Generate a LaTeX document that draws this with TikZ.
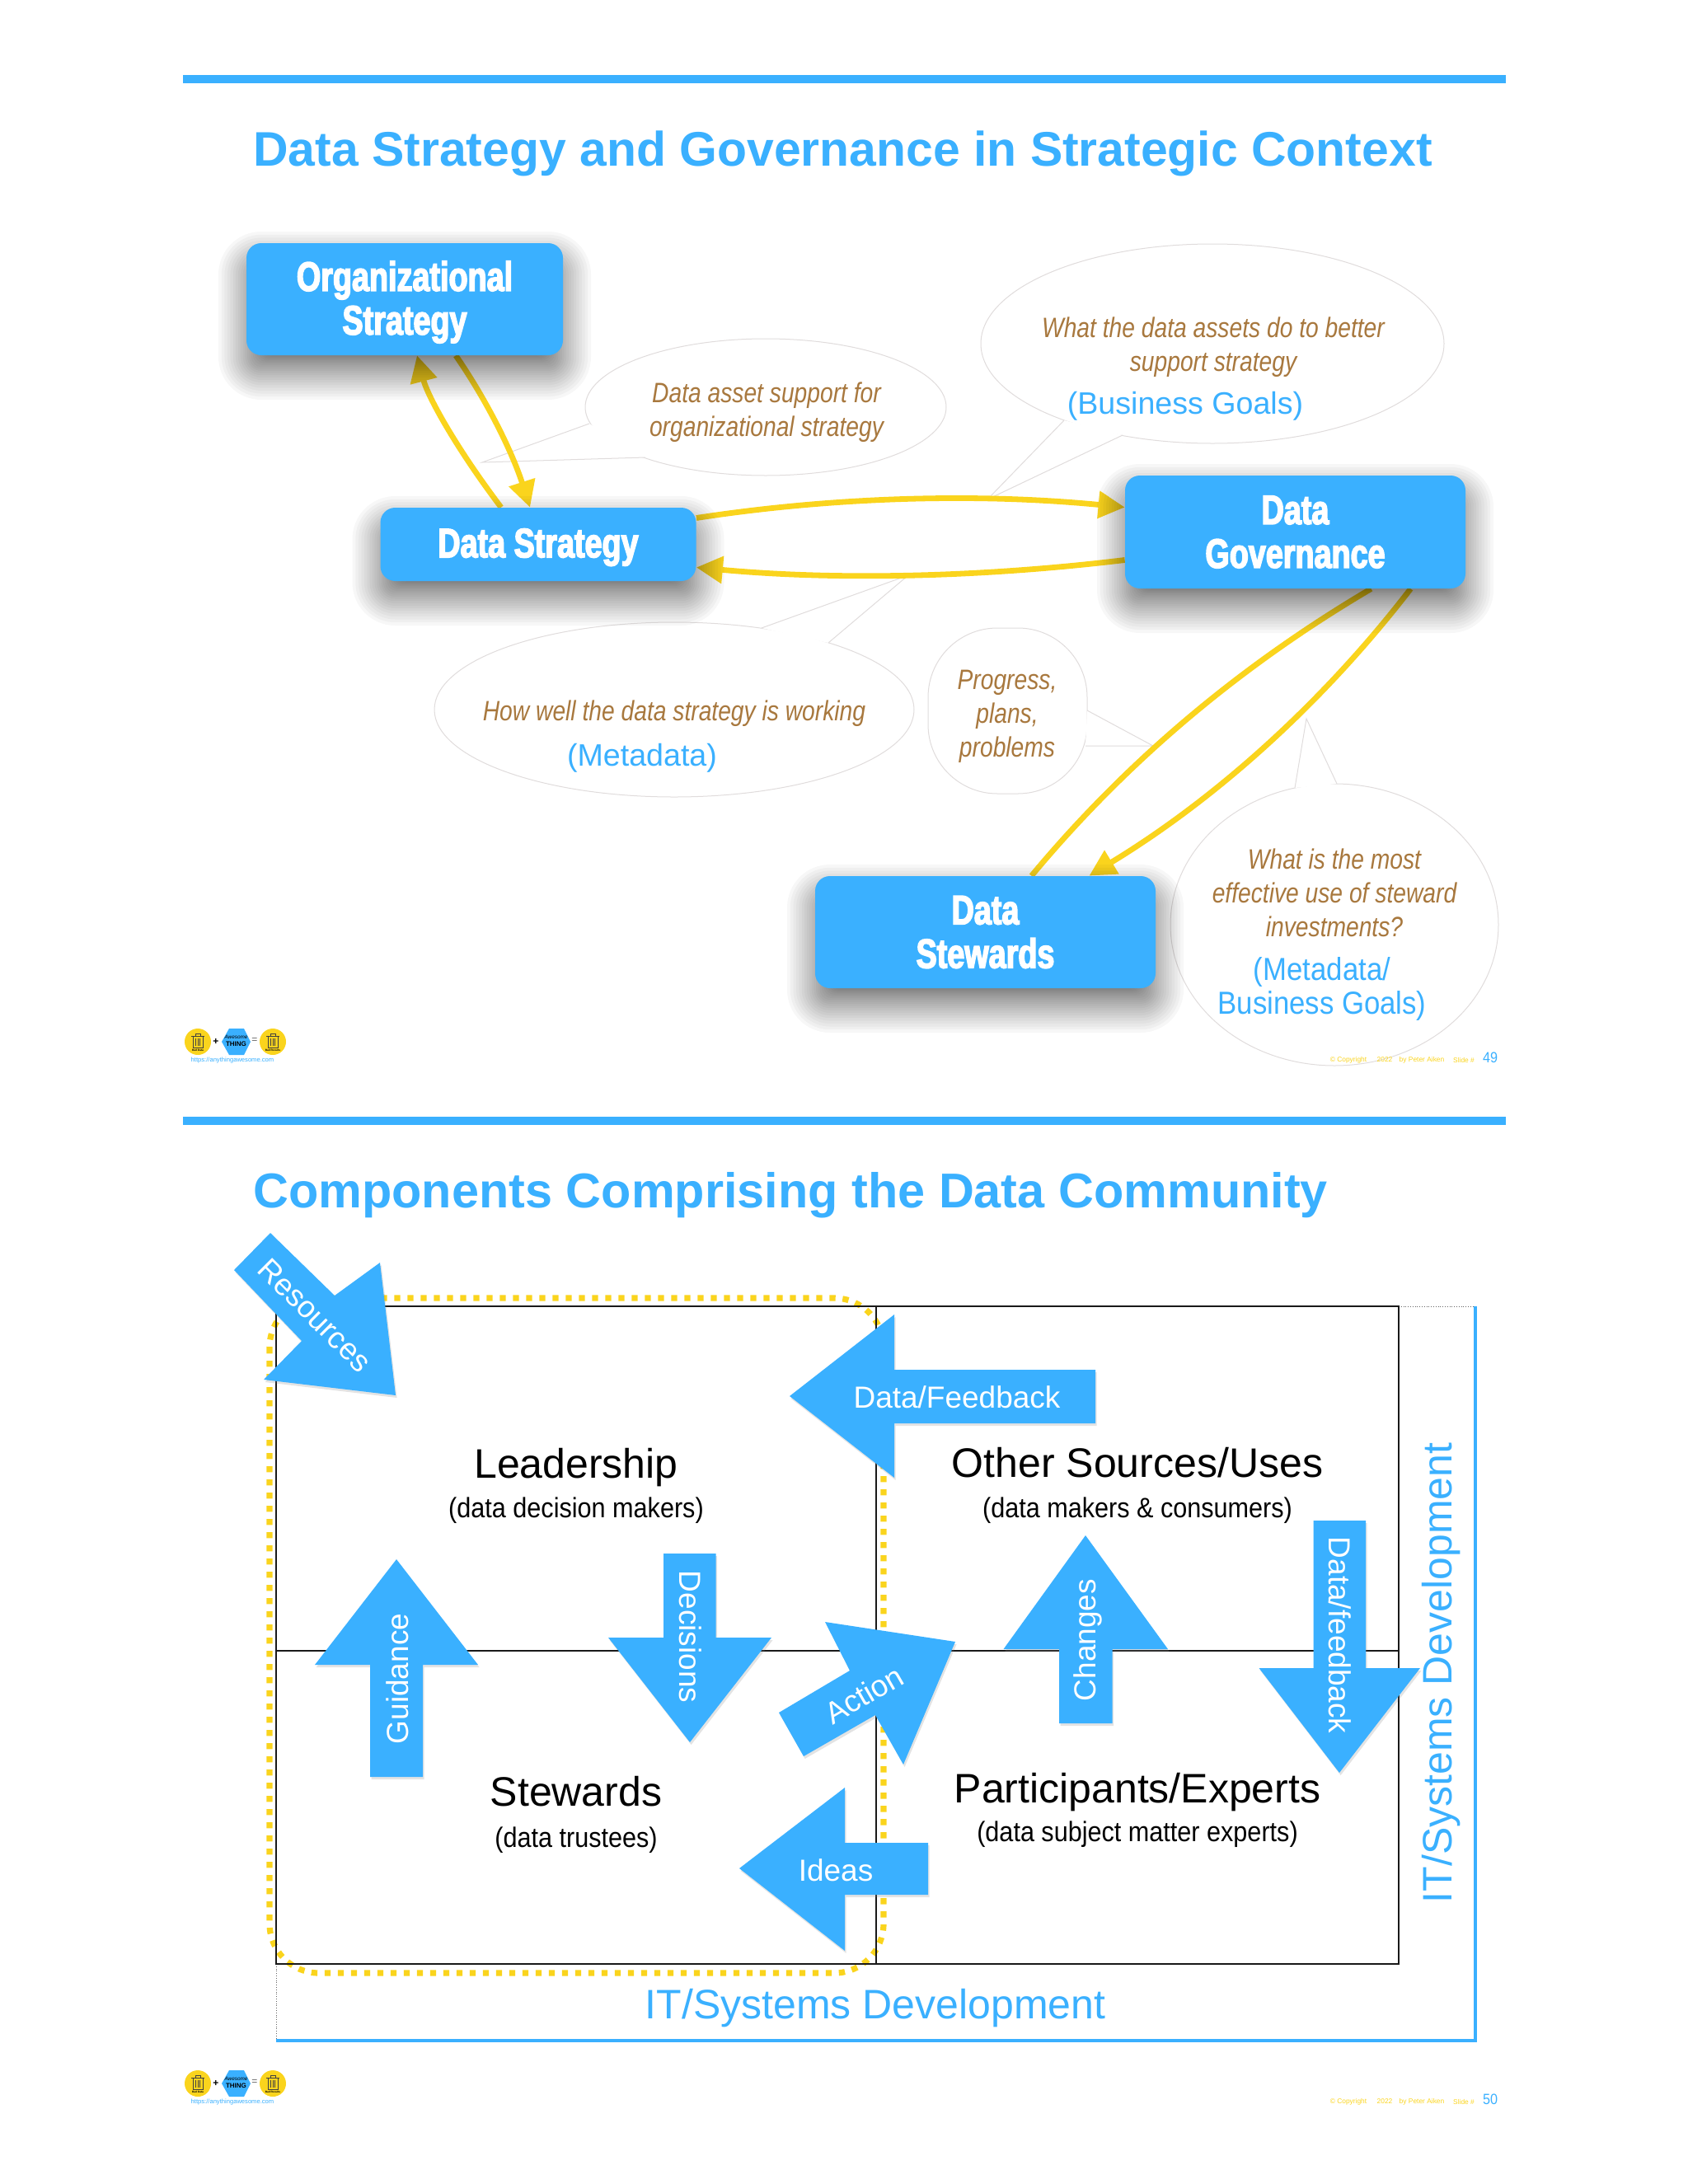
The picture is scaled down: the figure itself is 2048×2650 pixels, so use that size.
\documentclass[tikz,border=0pt]{standalone}
\usepackage{fontspec}
\setmainfont{Liberation Sans}
\newfontfamily\boxfont{Liberation Sans}[FakeStretch=0.755,FakeBold=3]
\newfontfamily\bubblefont{Liberation Sans}[FakeStretch=0.83]
\newfontfamily\narrowfont{Liberation Sans}[FakeStretch=0.9]
\usetikzlibrary{arrows.meta,shadows}
\definecolor{abblue}{RGB}{58,176,255}
\definecolor{abyellow}{RGB}{250,212,29}
\definecolor{abbrown}{RGB}{168,120,62}
\definecolor{abline}{RGB}{224,220,220}
\pgfdeclarelayer{back}
\pgfsetlayers{back,main}

% soft shadow under a box: centre x, centre y, width, height (in picture units)
\newcommand\softshadow[4]{%
  \foreach \i in {0,...,31} {
    \pgfmathsetmacro\g{60*(1-\i/31)*(1-\i/31)-26}
    \pgfmathsetmacro\r{max(6,9+\g/2)}
    \fill[black,opacity=.03,rounded corners=\r pt]
      (#1-#3/2-\g,#2-#4/2-\g+20) rectangle (#1+#3/2+\g,#2+#4/2+\g+20);
  }%
}
% text set a little lower in its box
\newcommand\lowered[1]{\raisebox{-1.8pt}[\height][\depth]{#1}}
% bin icon in a logo circle: centre x, centre y, label, node name
\newcommand\logobin[4]{%
  \fill[abyellow] (#1,#2) circle [radius=16];
  \draw[black!75,line width=.4pt] (#1-6,#2-7) rectangle (#1+6,#2+7)
    (#1-8,#2-7) -- (#1+8,#2-7) (#1-3,#2-7) -- (#1-3,#2-10) -- (#1+3,#2-10) -- (#1+3,#2-7)
    (#1-2.5,#2-4) -- (#1-2.5,#2+5) (#1,#2-4) -- (#1,#2+5) (#1+2.5,#2-4) -- (#1+2.5,#2+5);
  \node[font=\bfseries\fontsize{1.6}{2}\selectfont,inner sep=0] (#4) at (#1,#2+10.5) {#3};%
}
% logo and page footer: vertical shift, page number
\newcommand\slidefoot[2]{%
  \begin{scope}[shift={(0,#1)}]
    \logobin{240}{1264}{Bad Data}{binl#2}
    \logobin{331}{1264}{Bad Results}{binr#2}
    \fill[abblue] (269,1264) -- (278,1248) -- (296,1248) -- (304,1264) -- (296,1280) -- (278,1280) -- cycle;
    \node[font=\itshape\fontsize{3.2}{4}\selectfont,inner sep=0] (aw#2) at (286.5,1258) {Awesome};
    \node[font=\bfseries\fontsize{4}{5}\selectfont,inner sep=0] (th#2) at (286.5,1267) {THING};
    \node[font=\bfseries\fontsize{6}{7}\selectfont,inner sep=0] (pl#2) at (262,1264) {+};
    \node[font=\fontsize{6}{7}\selectfont,text=black!60,inner sep=0] (eq#2) at (309,1263) {=};
    \node[font=\fontsize{3.8}{5}\selectfont,text=abblue,inner sep=0] (url#2) at (282,1287) {https://anythingawesome.com};
    \node[foot] (cp#2) at (1636,1286) {© Copyright};
    \node[foot] (yr#2) at (1680,1286) {2022};
    \node[foot] (by#2) at (1725,1286) {by Peter Aiken};
    \node[foot] (sl#2) at (1776,1286) {Slide \#};
    \node[font=\narrowfont\fontsize{9}{10}\selectfont,text=abblue,inner sep=0] (no#2) at (1808,1283) {#2};
  \end{scope}%
}
\tikzset{
  box/.style 2 args={fill=abblue,rounded corners=9pt,inner sep=0,align=center,text=white,
    minimum width=#1*.5pt,minimum height=#2*.5pt,
    font=\boxfont\bfseries\fontsize{25}{26.5}\selectfont},
  flow/.style={draw=abyellow,line width=3.4pt},
  flowtip/.style={flow,-{Triangle[length=16pt,width=16pt]}},
  bubble/.style={draw=abline,line width=.5pt,fill=white},
  tailfill/.style={fill=white},
  ask/.style={font=\bubblefont\itshape\fontsize{17}{20.5}\selectfont,text=abbrown,align=center,inner sep=0},
  meta/.style={font=\fontsize{18.8}{20.5}\selectfont,text=abblue,align=center,inner sep=0},
  title/.style={font=\bfseries\fontsize{#1}{32}\selectfont,text=abblue,anchor=west,inner sep=0},
  foot/.style={font=\fontsize{4.2}{5}\selectfont,text=abyellow,inner sep=0},
  cellname/.style={font=\fontsize{25}{28}\selectfont,inner sep=0},
  cellsub/.style={font=\narrowfont\fontsize{17}{20}\selectfont,inner sep=0},
  blockarrow/.style={fill=abblue,drop shadow={shadow xshift=.8pt,shadow yshift=-1.5pt,opacity=.22}},
  arrowtext/.style={font=\fontsize{18.5}{20}\selectfont,text=white,inner sep=0},
  devtext/.style={font=\fontsize{25}{28}\selectfont,text=abblue,inner sep=0},
}
\begin{document}
\begin{tikzpicture}[x=.5pt,y=-.5pt]
\useasboundingbox (0,0) rectangle (2048,2650);

% ---- slide 49 ----
\fill[abblue] (222,91) rectangle (1827,101);
\node[title=29.45] (t1) at (307,186) {Data Strategy and Governance in Strategic Context};

\node[box={384}{136}] (org) at (491,363) {\lowered{Organizational}\\\lowered{Strategy}};
\node[box={383}{89}] (ds) at (653,660.5) {\lowered{Data Strategy}};
\node[box={413}{137}] (dg) at (1571.5,645.5) {Data\\Governance};
\node[box={413}{136}] (st) at (1195.5,1131) {Data\\Stewards};

\begin{pgfonlayer}{back}
  % speech bubbles
  \draw[bubble] (929,494) ellipse [x radius=219,y radius=83];
  \fill[tailfill] (715,514) -- (585,561) -- (783,555) -- cycle;
  \draw[bubble,fill=none] (715,514) -- (585,561) -- (783,555);

  \draw[bubble] (1471,417) ellipse [x radius=281,y radius=121];
  \fill[tailfill] (1291,510) -- (1198,606) -- (1362,528) -- cycle;
  \draw[bubble,fill=none] (1291,510) -- (1198,606) -- (1362,528);

  \draw[bubble] (818,861) ellipse [x radius=291,y radius=106];
  \fill[tailfill] (924,762) -- (1102,698) -- (1005,780) -- cycle;
  \draw[bubble,fill=none] (924,762) -- (1102,698) -- (1005,780);

  \draw[bubble,rounded corners=42pt] (1126,762) rectangle (1319,963);
  \fill[tailfill] (1319,862) -- (1399,905) -- (1317,905) -- cycle;
  \draw[bubble,fill=none] (1319,862) -- (1399,905) -- (1317,905);

  \draw[bubble] (1619,1122) ellipse [x radius=199,y radius=171];
  \fill[tailfill] (1571,956) -- (1585,872) -- (1622,951) -- cycle;
  \draw[bubble,fill=none] (1571,956) -- (1585,872) -- (1622,951);

  % yellow connectors
  \draw[flowtip] ([xshift=31pt]org.south) .. controls (592,488) and (622,550) .. ([xshift=-5pt]ds.north);
  \draw[flowtip] ([xshift=-22.5pt]ds.north) .. controls (553,543) and (519,481) .. ([xshift=7.5pt]org.south);
  \draw[flowtip] ([yshift=16pt]ds.east) .. controls (1011,603) and (1185,598) .. ([yshift=15pt]dg.west);
  \draw[flowtip] ([yshift=-17pt]dg.west) .. controls (1186,701) and (1012,704) .. ([yshift=-14pt]ds.east);
  \draw[flow] ([xshift=46pt]dg.south) .. controls (1503,809) and (1366,925) .. ([xshift=28pt]st.north);
  \draw[flowtip] ([xshift=70pt]dg.south) .. controls (1604,854) and (1474,970) .. ([xshift=63pt]st.north);

  % box shadows lie over the connector ends
  \softshadow{491}{363}{384}{136}
  \softshadow{653}{660.5}{383}{89}
  \softshadow{1571.5}{645.5}{413}{137}
  \softshadow{1195.5}{1131}{413}{136}
\end{pgfonlayer}

\node[ask] (b1) at (930,500) {Data asset support for\\organizational strategy};
\node[ask] (b2) at (1472,421) {What the data assets do to better\\support strategy};
\node[meta] (b2m) at (1438,493) {(Business Goals)};
\node[ask] (b3) at (818,866) {How well the data strategy is working};
\node[meta] (b3m) at (779,920) {(Metadata)};
\node[ask] (b4) at (1222,869) {Progress,\\plans,\\problems};
\node[ask] (b5) at (1619,1083) {What is the most\\effective use of steward\\investments?};
\node[meta,font=\narrowfont\fontsize{19.3}{20.5}\selectfont] (b5m) at (1604,1200) {(Metadata/\\Business Goals)};

\slidefoot{0}{49}

% ---- slide 50 ----
\fill[abblue] (222,1355) rectangle (1827,1365);
\node[title=29.7] (t2) at (307,1450) {Components Comprising the Data Community};

% outer development frame
\draw[black!60,line width=.4pt,densely dotted] (1697,1585) -- (1790,1585) (335,2383) -- (335,2476);
\draw[abblue,line width=1.7pt] (1790,1585) -- (1790,2476) -- (335,2476);

% dotted community outline
\draw[abyellow,line width=3.6pt,dash pattern=on 3.7pt off 4.3pt,rounded corners=30pt]
  (327,1575) rectangle (1072,2394);

% grid of four cells
\draw[black!90,line width=.8pt] (335,1585) rectangle (1697,2383)
  (1063,1585) -- (1063,2383) (335,2003) -- (1697,2003);

\node[cellname] (lead) at (699,1781) {Leadership};
\node[cellsub] (leads) at (699,1833) {(data decision makers)};
\node[cellname] (stew) at (699,2174) {Stewards};
\node[cellsub] (stews) at (699,2233) {(data trustees)};
\node[cellname] (other) at (1380,1775) {Other Sources/Uses};
\node[cellsub] (others) at (1380,1833) {(data makers \& consumers)};
\node[cellname] (part) at (1380,2175) {Participants/Experts};
\node[cellsub] (parts) at (1380,2226) {(data subject matter experts)};

% block arrows
\fill[blockarrow] (328,1496) -- (406,1572) -- (461,1532) -- (480,1693) -- (320,1674) -- (366,1627) -- (284,1541) -- cycle;
\fill[blockarrow] (958,1694) -- (1085,1595) -- (1085,1662) -- (1329,1662) -- (1329,1727) -- (1085,1727) -- (1085,1793) -- cycle;
\fill[blockarrow] (897,2267) -- (1025,2169) -- (1025,2236) -- (1126,2236) -- (1126,2299) -- (1025,2299) -- (1025,2367) -- cycle;
\fill[blockarrow] (481,1892) -- (580,2020) -- (513,2020) -- (513,2156) -- (449,2156) -- (449,2020) -- (382,2020) -- cycle;
\fill[blockarrow] (837,2114) -- (936,1987) -- (868.5,1987) -- (868.5,1885) -- (805,1885) -- (805,1987) -- (738,1987) -- cycle;
\fill[blockarrow] (945,2078) -- (1031,2027) -- (1001,1968) -- (1159,1992) -- (1096,2141) -- (1062,2081) -- (975,2131) -- cycle;
\fill[blockarrow] (1317,1863) -- (1417,2001) -- (1349.5,2001) -- (1349.5,2091) -- (1285,2091) -- (1285,2001) -- (1217.5,2001) -- cycle;
\fill[blockarrow] (1625,2151) -- (1723,2024) -- (1657,2024) -- (1657,1845) -- (1593.5,1845) -- (1593.5,2024) -- (1527.5,2024) -- cycle;

\node[arrowtext,rotate=-45] (res) at (382,1596) {Resources};
\node[arrowtext] (fb) at (1161,1695) {Data/Feedback};
\node[arrowtext] (ideas) at (1014,2269) {Ideas};
\node[arrowtext,rotate=90] (gui) at (482,2037) {Guidance};
\node[arrowtext,rotate=-90] (dec) at (838,1986) {Decisions};
\node[arrowtext,rotate=30] (act) at (1048,2056) {Action};
\node[arrowtext,rotate=90] (chg) at (1320,1990) {Changes};
\node[arrowtext,rotate=-90] (dfb) at (1626,1984) {Data/feedback};

\node[devtext] (dev1) at (1062,2437) {IT/Systems Development};
\node[devtext,rotate=90] (dev2) at (1749,2030) {IT/Systems Development};

\slidefoot{1264}{50}
\end{tikzpicture}
\end{document}
